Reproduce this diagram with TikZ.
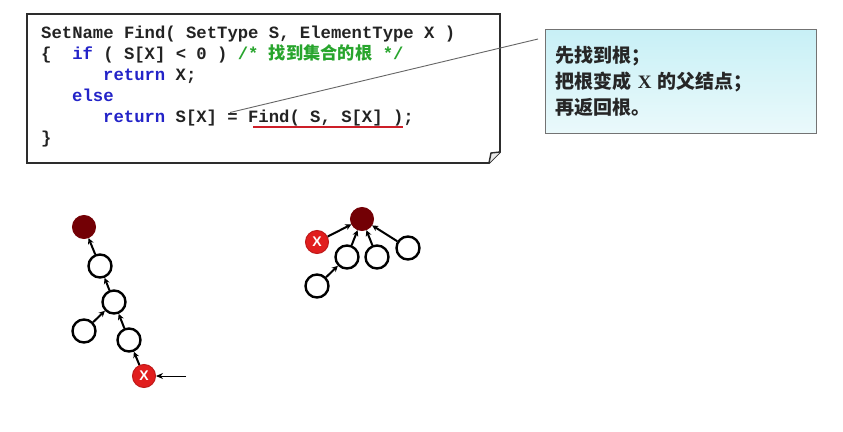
\documentclass[tikz,border=0pt]{standalone}
\usepackage{fontspec}
\setmainfont{Liberation Serif}
\setmonofont{Liberation Mono}
\newfontfamily\cjk{Noto Sans CJK SC}
\newfontfamily\sansx{Liberation Sans}
\usetikzlibrary{arrows.meta,shadings}
\definecolor{kw}{RGB}{35,35,200}
\definecolor{cm}{RGB}{40,165,45}
\definecolor{tx}{RGB}{35,35,35}
\definecolor{ul}{RGB}{205,30,40}
\definecolor{rootc}{RGB}{115,0,5}
\definecolor{xred}{RGB}{225,30,30}
\definecolor{boxc}{RGB}{45,45,45}
\definecolor{notetop}{RGB}{200,240,246}
\definecolor{notebot}{RGB}{234,249,251}
\definecolor{noteedge}{RGB}{115,115,115}
\tikzset{
  codeline/.style={anchor=base west,inner sep=0pt,text=tx,
    font=\fontsize{17.25}{20}\selectfont\ttfamily\bfseries},
  notebox/.style={draw=noteedge,line width=1pt,top color=notetop,bottom color=notebot,
    anchor=north west,minimum width=271pt,minimum height=104pt,inner xsep=10pt,
    text width=251pt,align=left,text=black!85,
    font=\fontsize{19}{26}\selectfont\cjk\bfseries},
  wnode/.style={circle,draw=black,line width=2.4pt,fill=white,minimum size=23pt,inner sep=0pt},
  rnode/.style={circle,draw=rootc,fill=rootc,line width=1pt,minimum size=23pt,inner sep=0pt},
  xnode/.style={circle,draw=xred!85!black,fill=xred,line width=1pt,minimum size=23pt,inner sep=0pt,
    text=white,font=\fontsize{14}{14}\selectfont\sansx\bfseries},
  tedge/.style={line width=2pt,-{Stealth[length=6pt,width=6pt]}},
  pointer/.style={line width=0.9pt,-{Stealth[length=7pt,width=6pt]}},
}
\begin{document}
\begin{tikzpicture}[x=1pt,y=-1pt]
\useasboundingbox[fill=white] (0,0) rectangle (843,431);
% code box with folded corner
\draw[boxc,line width=1.8pt,line join=miter] (27,14) -- (500,14) -- (500,152) -- (489,163) -- (27,163) -- cycle;
\draw[boxc,line width=1.4pt,fill=black!8] (500,152) -- (491,153) -- (489,163);
% code lines
\node[codeline] (l1) at (41,38) {SetName Find( SetType S, ElementType X )};
\node[codeline] (l2) at (41,59) {\{\ \ \textcolor{kw}{if} ( S[X] < 0 ) \textcolor{cm}{/*\ {\cjk 找到集合的根} */}};
\node[codeline] (l3) at (103,80) {\textcolor{kw}{return} X;};
\node[codeline] (l4) at (72,101) {\textcolor{kw}{else}};
\node[codeline] (l5) at (103,122) {\textcolor{kw}{return} S[X] = Find( S, S[X] );};
\node[codeline] (l6) at (41,143) {\}};
% red underline
\coordinate (u1) at (253,127);
\coordinate (u2) at (403,127);
\draw[ul,line width=1.6pt] (u1) -- (u2);
% callout
\node[notebox] (note) at (545,29) {先找到根；\\把根变成 {\rmfamily\bfseries X} 的父结点；\\再返回根。};
\coordinate (eq) at (230,112.5);
\coordinate (tip) at (538,39);
\draw[black!60,line width=0.9pt] (eq) -- (tip);
% left tree
\node[rnode] (r1) at (84,227) {};
\node[wnode] (a1) at (100,266) {};
\node[wnode] (a2) at (114,302) {};
\node[wnode] (a3) at (84,331) {};
\node[wnode] (a4) at (129,340) {};
\node[xnode] (x1) at (144,376) {X};
\draw[tedge] (a1) -- (r1);
\draw[tedge] (a2) -- (a1);
\draw[tedge] (a3) -- (a2);
\draw[tedge] (a4) -- (a2);
\draw[tedge] (x1) -- (a4);
\coordinate (in) at (186,376);
\draw[pointer] (in) -- (x1);
% right tree
\node[rnode] (r2) at (362,219) {};
\node[xnode] (x2) at (317,242) {X};
\node[wnode] (b1) at (347,257) {};
\node[wnode] (b2) at (377,257) {};
\node[wnode] (b3) at (408,248) {};
\node[wnode] (b4) at (317,286) {};
\draw[tedge] (x2) -- (r2);
\draw[tedge] (b1) -- (r2);
\draw[tedge] (b2) -- (r2);
\draw[tedge] (b3) -- (r2);
\draw[tedge] (b4) -- (b1);
\end{tikzpicture}
\end{document}
